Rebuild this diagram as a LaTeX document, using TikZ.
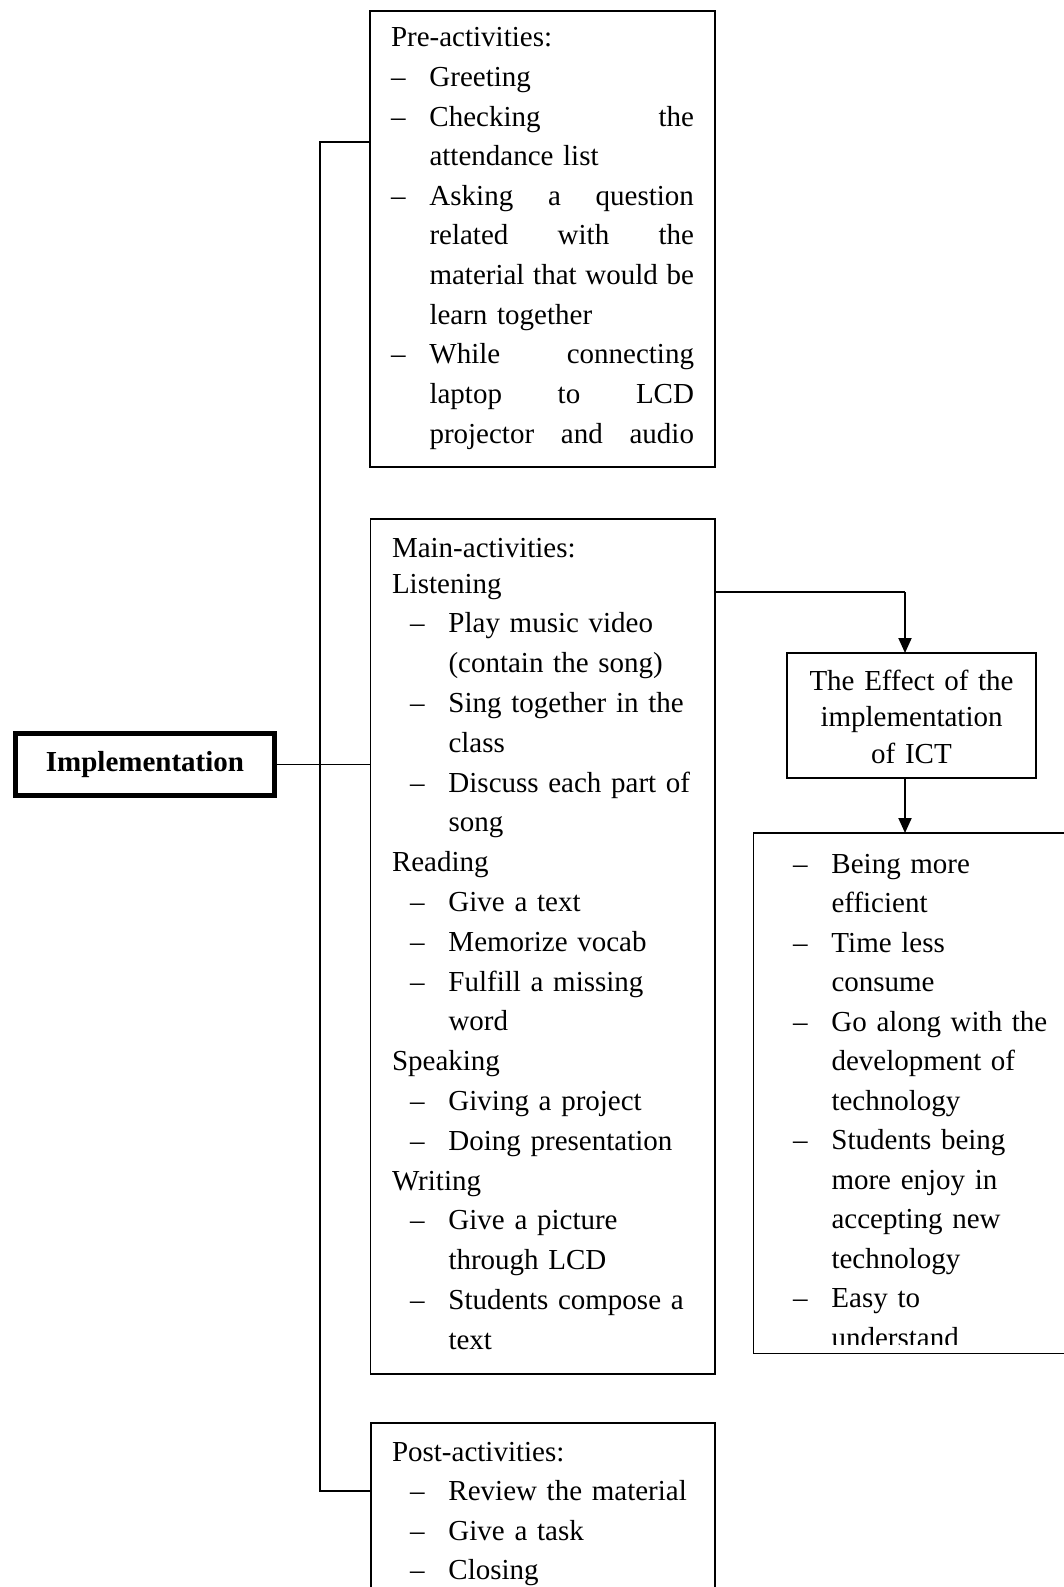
\documentclass[tikz,border=0pt]{standalone}
\usepackage{fontspec}
\setmainfont{Liberation Serif}
\usetikzlibrary{arrows.meta}

% list markers
\newcommand{\itm}{\makebox[38.5pt][l]{--}}
\newcommand{\hng}{\hspace*{38.5pt}}
\newcommand{\sitm}{\hspace*{18pt}\itm}
\newcommand{\shng}{\hspace*{56.5pt}}

\begin{document}
\begin{tikzpicture}[x=1pt,y=-1pt,
    box/.style={draw,line width=1.3pt,anchor=north west,outer sep=0pt,inner ysep=0pt,
        align=left,font=\fontsize{29pt}{39.6pt}\selectfont},
    link/.style={line width=1.3pt},
    arr/.style={line width=2pt,-{Triangle[length=15pt,width=13pt]}}]
    \useasboundingbox (0,0) rectangle (1064,1587);

    \node[draw,line width=4.7pt,minimum width=259.4pt,minimum height=62.3pt,inner sep=0pt,
        outer sep=0pt,font=\fontsize{29pt}{34pt}\selectfont\bfseries] (impl) at (145,764.5) {Implementation};

    \node[box,inner xsep=21pt,text width=303pt,text height=36pt,text depth=420pt] (pre) at (370,11)
        {Pre-activities:\\
        \itm Greeting\\
        \itm Checking\hfill the\\
        \hng attendance list\\
        \itm Asking\hfill a\hfill question\\
        \hng related\hfill with\hfill the\\
        \hng material\hfill that\hfill would\hfill be\\
        \hng learn together\\
        \itm While\hfill connecting\\
        \hng laptop\hfill to\hfill LCD\\
        \hng projector\hfill and\hfill audio};

    \node[box,inner xsep=21.5pt,text width=301.5pt,text height=38pt,text depth=817pt,
        font=\fontsize{29pt}{39.8pt}\selectfont] (main) at (370.5,519)
        {Main-activities:\\[-3.8pt]
        Listening\\
        \sitm Play music video\\
        \shng (contain the song)\\
        \sitm Sing together in the\\
        \shng class\\
        \sitm Discuss each part of\\
        \shng song\\
        Reading\\
        \sitm Give a text\\
        \sitm Memorize vocab\\
        \sitm Fulfill a missing\\
        \shng word\\
        Speaking\\
        \sitm Giving a project\\
        \sitm Doing presentation\\
        Writing\\
        \sitm Give a picture\\
        \shng through LCD\\
        \sitm Students compose a\\
        \shng text};

    \node[box,inner xsep=21pt,text width=302pt,text height=38pt,text depth=200pt] (post) at (371,1423)
        {Post-activities:\\
        \sitm Review the material\\
        \sitm Give a task\\
        \sitm Closing};

    \node[box,line width=2pt,align=center,inner xsep=8pt,text width=233pt,text height=37pt,
        text depth=88pt,font=\fontsize{29pt}{36.5pt}\selectfont] (effect) at (787,653)
        {The Effect of the\\ implementation\\ of ICT};

    % list of effects, text cut at the bottom
    \begin{scope}
        \clip (740,820) rectangle (1064,1344.5);
        \node[box,draw=none,inner xsep=39.5pt,text width=280pt,text height=40pt,text depth=480.5pt,
            font=\fontsize{29pt}{39.5pt}\selectfont] (result) at (753.5,833)
            {\itm Being more\\
            \hng efficient\\
            \itm Time less\\
            \hng consume\\
            \itm Go along with the\\
            \hng development of\\
            \hng technology\\
            \itm Students being\\
            \hng more enjoy in\\
            \hng accepting new\\
            \hng technology\\
            \itm Easy to\\
            \hng understand};
    \end{scope}
    \draw[link] (result.north west) rectangle (result.south east);

    % connectors
    \coordinate (spinetop) at (320,142);
    \coordinate (spinebot) at (320,1491);
    \coordinate (bend) at (905,592);
    \draw[link] (spinetop -| pre.west) -- (spinetop) -- (spinebot) -- (spinebot -| post.west);
    \draw[link] (impl.east) -- (impl.east -| main.west);
    \draw[link] (bend -| main.east) -- (bend);
    \draw[arr] (bend) -- (bend |- effect.north);
    \draw[arr] (bend |- effect.south) -- (bend |- result.north);
\end{tikzpicture}
\end{document}
